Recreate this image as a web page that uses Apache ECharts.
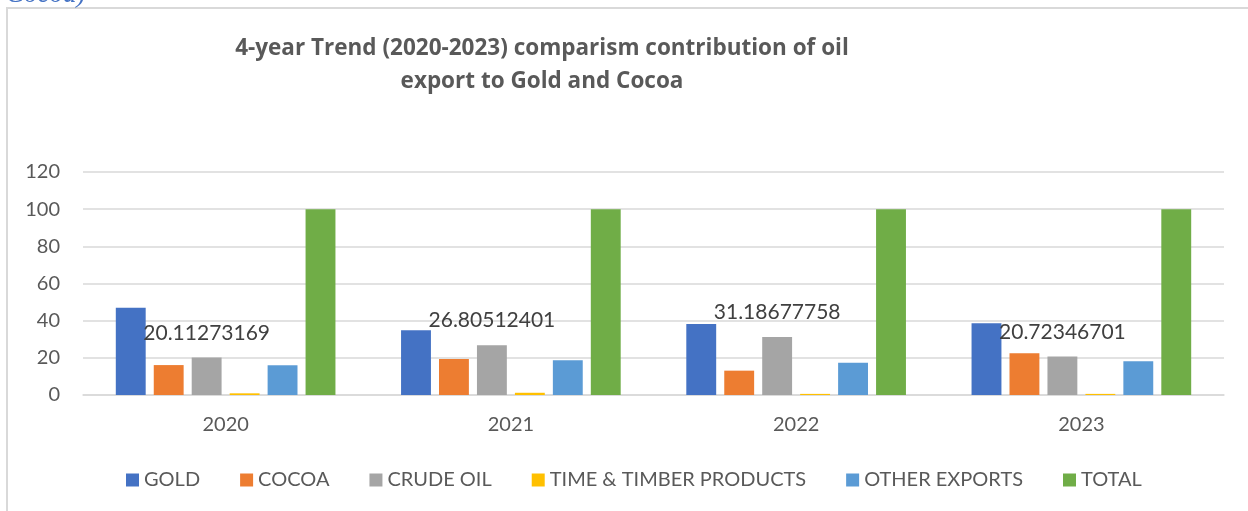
<!DOCTYPE html>
<html>
<head>
<meta charset="utf-8">
<script src="https://cdn.jsdelivr.net/npm/echarts@6/dist/echarts.min.js"></script>
<style>
  html, body { margin: 0; padding: 0; background: #fff; }
  #chart { width: 1248px; height: 511px; }
</style>
</head>
<body>
<div id="chart"></div>
<script>
const years = ['2020', '2021', '2022', '2023']
const gold = [47.0, 34.8, 38.2, 38.6]
const cocoa = [16.1, 19.4, 13.1, 22.4]
const crudeOil = [20.11273169, 26.80512401, 31.18677758, 20.72346701]
const timber = [0.9, 1.2, 0.6, 0.6]
const otherExports = [16.0, 18.7, 17.4, 18.1]
const total = [100, 100, 100, 100]
const yTicks = [0, 20, 40, 60, 80, 100, 120]

const font = 'Lato, "Open Sans", sans-serif'
const chart = echarts.init(document.getElementById('chart'))

function bar(name, data, color, withLabel) {
  const s = {
    name: name,
    type: 'bar',
    data: data,
    itemStyle: { color: color },
    barGap: '27%',
    barCategoryGap: '23%',
  }
  if (withLabel) {
    s.label = {
      show: true,
      position: 'top',
      distance: 14,
      color: '#404040',
      fontFamily: font,
      fontSize: 21,
      formatter: (p) => String(p.value),
    }
  }
  return s
}

chart.setOption({
  animation: false,
  graphic: [
    {
      type: 'rect',
      shape: { x: 7, y: 8, width: 1400, height: 700 },
      style: { fill: 'none', stroke: '#d9d9d9', lineWidth: 2 },
    },
    {
      type: 'text',
      left: 6,
      top: -19,
      style: {
        text: 'Cocoa)',
        font: 'italic 27px "Liberation Serif", serif',
        fill: '#4472C4',
      },
    },
    {
      type: 'text',
      x: 542,
      y: 32,
      style: {
        text: '4-year Trend (2020-2023) comparism contribution of oil\nexport to Gold and Cocoa',
        font: 'bold 22.5px "Open Sans", sans-serif',
        fill: '#595959',
        align: 'center',
        lineHeight: 33,
      },
    },
  ],
  legend: {
    bottom: 16,
    left: 121,
    itemWidth: 13,
    itemHeight: 13,
    itemGap: 40,
    icon: 'rect',
    textStyle: { color: '#595959', fontFamily: font, fontSize: 20 },
    data: ['GOLD', 'COCOA', 'CRUDE OIL', 'TIME & TIMBER PRODUCTS', 'OTHER EXPORTS', 'TOTAL'],
  },
  grid: { left: 83, right: 24, top: 172, bottom: 116 },
  xAxis: {
    type: 'category',
    data: years,
    axisLine: { lineStyle: { color: '#d9d9d9', width: 1.5 } },
    axisTick: { show: false },
    axisLabel: { color: '#595959', fontFamily: font, fontSize: 20, margin: 20 },
  },
  yAxis: {
    type: 'value',
    min: yTicks[0],
    max: yTicks[yTicks.length - 1],
    interval: 20,
    axisLine: { show: false },
    axisTick: { show: false },
    splitLine: { lineStyle: { color: '#d9d9d9', width: 1.5 } },
    axisLabel: { color: '#595959', fontFamily: font, fontSize: 20, margin: 23 },
  },
  series: [
    bar('GOLD', gold, '#4472C4'),
    bar('COCOA', cocoa, '#ED7D31'),
    bar('CRUDE OIL', crudeOil, '#A5A5A5', true),
    bar('TIME & TIMBER PRODUCTS', timber, '#FFC000'),
    bar('OTHER EXPORTS', otherExports, '#5B9BD5'),
    bar('TOTAL', total, '#70AD47'),
  ],
})
</script>
</body>
</html>
